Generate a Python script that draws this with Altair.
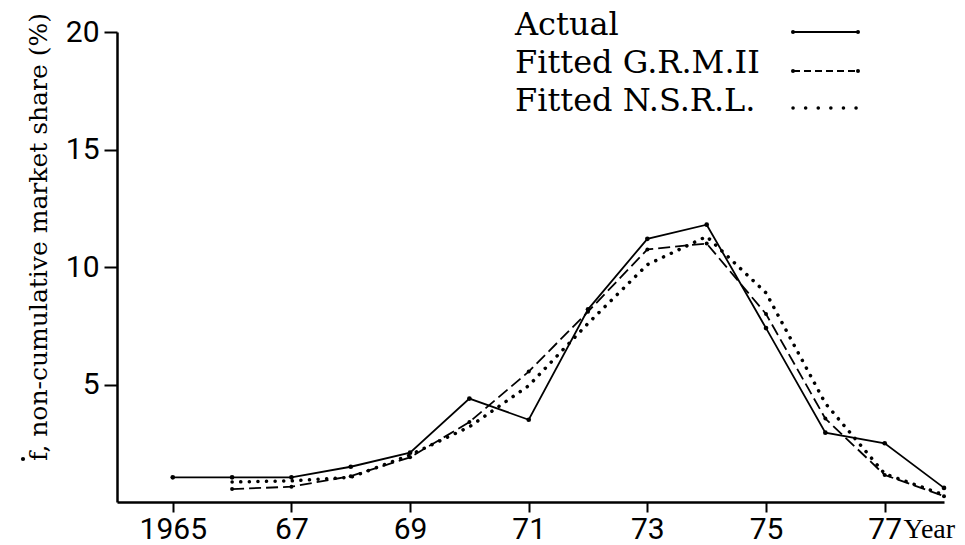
import altair as alt
import pandas as pd

# ---- data ----
years_actual = [1965, 1966, 1967, 1968, 1969, 1970, 1971, 1972, 1973, 1974, 1975, 1976, 1977, 1978]
actual = [1.05, 1.05, 1.05, 1.5, 2.1, 4.4, 3.5, 8.2, 11.2, 11.8, 7.4, 2.95, 2.5, 0.6]
years_fit = [1966, 1967, 1968, 1969, 1970, 1971, 1972, 1973, 1974, 1975, 1976, 1977, 1978]
grm = [0.55, 0.65, 1.1, 1.9, 3.4, 5.55, 8.1, 10.75, 11.0, 8.0, 3.55, 1.15, 0.25]
nsrl = [0.85, 0.9, 1.05, 2.0, 3.2, 4.95, 7.6, 10.1, 11.3, 8.9, 4.2, 1.2, 0.3]
tick_years = [1965, 1967, 1969, 1971, 1973, 1975, 1977]
y_ticks = [5, 10, 15, 20]
legend_labels = ["Actual", "Fitted G.R.M.II", "Fitted N.S.R.L."]
y_title = "f, non-cumulative market share (%)"   # the dot over f is drawn separately
x_title = "Year"

df_actual = pd.DataFrame({"year": years_actual, "value": actual})
df_grm = pd.DataFrame({"year": years_fit, "value": grm})
df_nsrl = pd.DataFrame({"year": years_fit, "value": nsrl})

x_scale = alt.Scale(domain=[1964.06, 1978], nice=False, zero=False)
y_scale = alt.Scale(domain=[0, 20], nice=False, zero=True)

x_axis = alt.Axis(
    values=tick_years,
    labelExpr="datum.value == 1965 ? '1965' : substring(toString(datum.value), 2)",
    title=x_title, titleX=786, titleY=35, titleAlign="left", titleBaseline="alphabetic",
    titleFont="Liberation Serif", titleFontSize=28, titleFontWeight="normal", titleColor="black",
    labelFont="Roboto", labelFontSize=30, labelColor="black", labelPadding=2,
    tickSize=10, tickWidth=2, tickColor="black", domainWidth=2.5, domainColor="black",
    grid=False, labelFlush=False, labelOverlap=False,
)
y_axis = alt.Axis(
    values=y_ticks,
    title=None,
    labelFont="Roboto", labelFontSize=30, labelColor="black", labelPadding=5,
    tickSize=13, tickWidth=2, tickColor="black", domainWidth=2.5, domainColor="black",
    grid=False, labelOverlap=False,
)

X = alt.X("year:Q", scale=x_scale, axis=x_axis)
Y = alt.Y("value:Q", scale=y_scale, axis=y_axis)

line_actual = alt.Chart(df_actual).mark_line(color="black", strokeWidth=1.8).encode(x=X, y=Y)
pts_actual = alt.Chart(df_actual).mark_circle(color="black", size=22, opacity=1).encode(x=X, y=Y)
line_grm = alt.Chart(df_grm).mark_line(color="black", strokeWidth=1.8, strokeDash=[12, 5]).encode(x=X, y=Y)
pts_grm = alt.Chart(df_grm).mark_circle(color="black", size=16, opacity=1).encode(x=X, y=Y)
line_nsrl = alt.Chart(df_nsrl).mark_line(
    color="black", strokeWidth=3.5, strokeDash=[0.1, 8.5], strokeCap="round"
).encode(x=X, y=Y)

dummy = pd.DataFrame({"d": [0]})

# ---- y axis title as a rotated text mark (serif) ----
y_title_mark = alt.Chart(dummy).mark_text(
    text=y_title, angle=270, align="center", baseline="alphabetic",
    font="DejaVu Serif", fontSize=25, color="black",
).encode(x=alt.value(-70), y=alt.value(205))
y_title_dot = alt.Chart(dummy).mark_circle(color="black", size=18, opacity=1).encode(
    x=alt.value(-94), y=alt.value(427)
)

# ---- legend (labels left, samples right) ----
leg_text_x = 398
leg_base_y = [3, 41, 79]
leg_line_y = [0, 39, 76]
samp_x1, samp_x2 = 676, 741
legend_layers = []
styles = [
    dict(strokeDash=[1, 0], strokeWidth=1.8),
    dict(strokeDash=[7, 4], strokeWidth=1.8),
    dict(strokeDash=[0.1, 12.5], strokeWidth=3.5, strokeCap="round"),
]
for i, lab in enumerate(legend_labels):
    legend_layers.append(
        alt.Chart(dummy).mark_text(
            text=lab, align="left", baseline="alphabetic", font="DejaVu Serif",
            fontSize=32, color="black",
        ).encode(x=alt.value(leg_text_x), y=alt.value(leg_base_y[i]))
    )
    legend_layers.append(
        alt.Chart(dummy).mark_rule(color="black", **styles[i]).encode(
            x=alt.value(samp_x1), x2=alt.value(samp_x2), y=alt.value(leg_line_y[i])
        )
    )
    if i < 2:
        for px in (samp_x1, samp_x2):
            legend_layers.append(
                alt.Chart(dummy).mark_circle(color="black", size=16, opacity=1).encode(
                    x=alt.value(px), y=alt.value(leg_line_y[i])
                )
            )

chart = alt.layer(
    line_nsrl, line_grm, pts_grm, line_actual, pts_actual, y_title_mark, y_title_dot,
    *legend_layers
).properties(
    width=827, height=470,
    autosize=alt.AutoSizeParams(type="none"),
    padding={"left": 117, "top": 32, "right": 21, "bottom": 43},
    background="white",
).configure_view(stroke=None)

chart.save("out.html", embed_options={"renderer": "svg", "actions": False})
